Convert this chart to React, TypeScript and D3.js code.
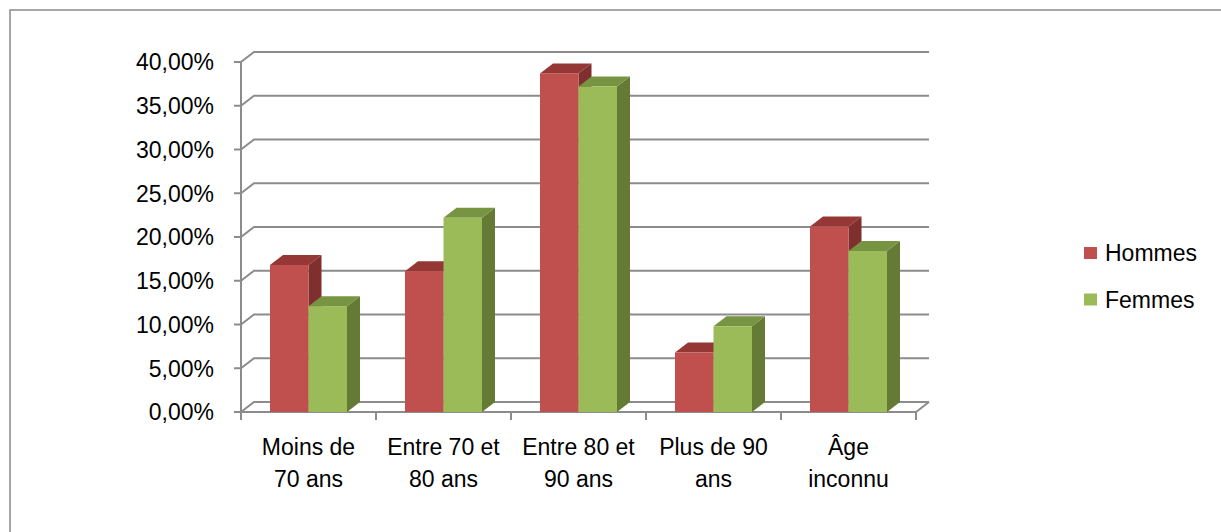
import React from "react";
import * as d3 from "d3";

// chart data
const categories = [
  ["Moins de", "70 ans"],
  ["Entre 70 et", "80 ans"],
  ["Entre 80 et", "90 ans"],
  ["Plus de 90", "ans"],
  ["Âge", "inconnu"],
];
const seriesNames = ["Hommes", "Femmes"];
const hommes = [0.168, 0.161, 0.387, 0.068, 0.212];
const femmes = [0.121, 0.222, 0.372, 0.098, 0.184];
const yTicks = [0, 0.05, 0.1, 0.15, 0.2, 0.25, 0.3, 0.35, 0.4];

const W = 1221;
const H = 532;
const font = "'Liberation Sans', Arial, sans-serif";
const fontSize = 23;
const gridColor = "#8c8c8c";
const depth = { dx: 13, dy: -10 }; // oblique offset for the 3D look

const colors = {
  Hommes: { front: "#c0504d", top: "#953735", side: "#7f2f2d" },
  Femmes: { front: "#9bbb59", top: "#779443", side: "#657a35" },
};

const plot = { left: 241, right: 916, top: 62, bottom: 412 };

const fmt = (v: number) => (v * 100).toFixed(2).replace(".", ",") + "%";

const App = () => {
  const keys = categories.map((c) => c.join(" "));
  const x = d3.scaleBand<string>().domain(keys).range([plot.left, plot.right]);
  const xs = d3
    .scaleBand<string>()
    .domain(seriesNames)
    .range([29, x.bandwidth() - 29]);
  const y = d3.scaleLinear().domain([0, 0.4]).range([plot.bottom, plot.top]);
  const values: Record<string, number[]> = { Hommes: hommes, Femmes: femmes };
  const { dx, dy } = depth;
  const base = y(0);

  const pt = (p: number[][]) => p.map((q) => q.join(",")).join(" ");

  return (
    <svg
      width={W}
      height={H}
      style={{ position: "absolute", left: 0, top: 0, background: "#fff" }}
      fontFamily={font}
    >
      <rect x={10} y={10} width={W + 20} height={H + 20} fill="#fff" stroke="#8a8a8a" strokeWidth={1.5} />

      {/* gridlines: short diagonal on the side wall then along the back wall */}
      {yTicks.map((t) => (
        <polyline
          key={t}
          points={pt([
            [plot.left, y(t)],
            [plot.left + dx, y(t) + dy],
            [plot.right + dx, y(t) + dy],
          ])}
          fill="none"
          stroke={gridColor}
          strokeWidth={2}
        />
      ))}
      {/* floor */}
      <polyline
        points={pt([
          [plot.left, base],
          [plot.right, base],
          [plot.right + dx, base + dy],
        ])}
        fill="none"
        stroke={gridColor}
        strokeWidth={2}
      />
      {/* value axis */}
      <line x1={plot.left} x2={plot.left} y1={y(0.4)} y2={base} stroke={gridColor} strokeWidth={2} />
      {yTicks.map((t) => (
        <g key={"t" + t}>
          <line x1={plot.left - 7} x2={plot.left} y1={y(t)} y2={y(t)} stroke={gridColor} strokeWidth={2} />
          <text x={214} y={y(t)} dy="0.36em" textAnchor="end" fontSize={fontSize} fill="#000">
            {fmt(t)}
          </text>
        </g>
      ))}
      {/* category ticks */}
      {[...keys.map((k) => x(k) as number), plot.right].map((tx, i) => (
        <line key={"c" + i} x1={tx} x2={tx} y1={base} y2={base + 8} stroke={gridColor} strokeWidth={2} />
      ))}

      {/* bars */}
      {keys.map((k, i) =>
        seriesNames.map((s) => {
          const x0 = (x(k) as number) + (xs(s) as number);
          const w = xs.bandwidth();
          const yt = y(values[s][i]);
          const c = colors[s as keyof typeof colors];
          return (
            <g key={k + s}>
              <polygon
                points={pt([
                  [x0 + w, yt],
                  [x0 + w + dx, yt + dy],
                  [x0 + w + dx, base + dy],
                  [x0 + w, base],
                ])}
                fill={c.side}
              />
              <polygon
                points={pt([
                  [x0, yt],
                  [x0 + dx, yt + dy],
                  [x0 + w + dx, yt + dy],
                  [x0 + w, yt],
                ])}
                fill={c.top}
              />
              <rect x={x0} y={yt} width={w} height={base - yt} fill={c.front} />
            </g>
          );
        })
      )}

      {/* category labels */}
      {keys.map((k, i) => (
        <text key={"l" + k} x={(x(k) as number) + x.bandwidth() / 2} textAnchor="middle" fontSize={fontSize} fill="#000">
          <tspan x={(x(k) as number) + x.bandwidth() / 2} y={455}>
            {categories[i][0]}
          </tspan>
          <tspan x={(x(k) as number) + x.bandwidth() / 2} y={487}>
            {categories[i][1]}
          </tspan>
        </text>
      ))}

      {/* legend */}
      {seriesNames.map((s, i) => (
        <g key={"lg" + s} transform={`translate(1084, ${253 + i * 46.5})`}>
          <rect x={0} y={-6} width={13} height={12} fill={colors[s as keyof typeof colors].front} />
          <text x={21} y={0} dy="0.36em" fontSize={fontSize} fill="#000">
            {s}
          </text>
        </g>
      ))}
    </svg>
  );
};

export default App;
